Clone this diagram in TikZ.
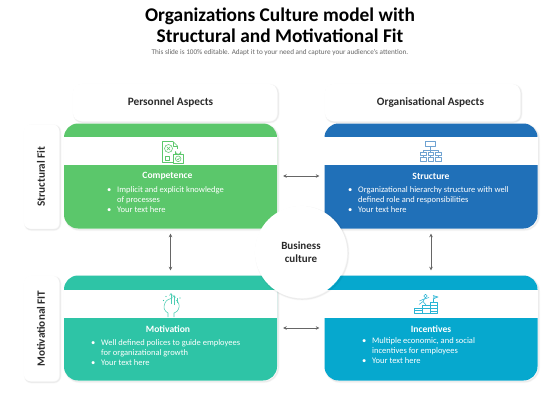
\documentclass[tikz,border=0pt]{standalone}
\usepackage{fontspec}
\setmainfont{Carlito}
\usetikzlibrary{arrows.meta}
\definecolor{cgreen}{HTML}{5BC76B}
\definecolor{cblue}{HTML}{2070B8}
\definecolor{cteal}{HTML}{2EC4A6}
\definecolor{ccyan}{HTML}{06A8CE}
\definecolor{ink}{HTML}{2B2B2B}
\tikzset{
  softshadow/.style={
    preaction={draw=black,draw opacity=.025,line width=2.6pt,transform canvas={shift={(1.2pt,-1.2pt)}}},
    preaction={draw=black,draw opacity=.05,line width=1.2pt,transform canvas={shift={(1.2pt,-1.2pt)}}}},
  cardbox/.style={rectangle,rounded corners=14pt,minimum width=213pt,minimum height=105pt,inner sep=0pt,softshadow},
  band/.style={rectangle,fill=white,minimum width=213.4pt,minimum height=28pt,inner sep=0pt},
  toplabel/.style={rectangle,fill=white,rounded corners=8pt,inner sep=0pt,softshadow,text=ink,font=\fontsize{11.3}{13}\selectfont\bfseries},
  sidelabel/.style={rectangle,fill=white,rounded corners=6pt,inner sep=0pt,softshadow,minimum width=35pt,minimum height=104pt},
  sidetext/.style={rotate=90,text=ink,inner sep=0pt,font=\fontsize{11.2}{13}\selectfont\bfseries},
  cardtitle/.style={text=white,inner sep=0pt,font=\fontsize{9.6}{11}\selectfont\bfseries},
  cardbody/.style={text=white,inner sep=0pt,align=left,anchor=north west,font=\fontsize{8.5}{10}\selectfont},
  link/.style={draw=black!60,line width=.6pt,{Stealth[length=3.5pt,width=3.5pt]}-{Stealth[length=3.5pt,width=3.5pt]}},
  icon/.style={line width=.55pt,line join=round,fill=none}
}
\newcommand{\bul}{\makebox[10pt][l]{•}}
\newcommand{\nob}{\hspace*{10pt}}
\begin{document}
\begin{tikzpicture}[x=1pt,y=-1pt]
\useasboundingbox[fill=white] (0,0) rectangle (560,420);
% title
\node[text=black,inner sep=0pt,align=center,font=\fontsize{19.4}{21}\selectfont\bfseries] (title) at (280,25.5) {Organizations Culture model with\\Structural and Motivational Fit};
\node[text=black!60,inner sep=0pt,font=\fontsize{7.2}{9}\selectfont] (sub) at (280,53) {This slide is 100\% editable. Adapt it to your need and capture your audience's attention.};
% header labels
\node[toplabel,minimum width=204pt,minimum height=37pt] (hp) at (175,102.5) {\hspace*{-9pt}Personnel Aspects};
\node[toplabel,minimum width=195pt,minimum height=37pt] (ho) at (422.5,102.5) {\hspace*{16pt}Organisational Aspects};
\node[sidelabel] (s1) at (41.5,176.5) {};
\node[sidelabel,minimum height=105pt] (s2) at (41.5,328.5) {};
\node[sidetext] (s1t) at (41,176.5) {Structural Fit};
\node[sidetext] (s2t) at (41,328.5) {Motivational FIT};
% cards
\node[cardbox,fill=cgreen] (c1) at (170.5,176) {};
\node[cardbox,fill=cblue] (c2) at (431,176) {};
\node[cardbox,fill=cteal] (c3) at (170.5,328) {};
\node[cardbox,fill=ccyan] (c4) at (431,328) {};
\node[band] (b1) at (170.5,151) {};
\node[band] (b2) at (431,151) {};
\node[band] (b3) at (170.5,304) {};
\node[band] (b4) at (431,304) {};
% connectors
\draw[link] ([xshift=6pt]c1.east) -- ([xshift=-5pt]c2.west);
\draw[link] ([xshift=6pt]c3.east) -- ([xshift=-5pt]c4.west);
\draw[link] ([yshift=-5pt]c1.south) -- ([yshift=5pt]c3.north);
\draw[link] ([yshift=-5pt]c2.south) -- ([yshift=5pt]c4.north);
% text
\node[cardtitle] (t1) at (167.5,176.5) {Competence};
\node[cardbody] (d1) at (107,186.5) {\bul Implicit and explicit knowledge\\\nob of processes\\\bul Your text here};
\node[cardtitle] (t2) at (431,176.5) {Structure};
\node[cardbody] (d2) at (348,186.5) {\bul Organizational hierarchy structure with well\\\nob defined role and responsibilities\\\bul Your text here};
\node[cardtitle] (t3) at (168,329) {Motivation};
\node[cardbody] (d3) at (91,339.5) {\bul Well defined polices to guide employees\\\nob for organizational growth\\\bul Your text here};
\node[cardtitle] (t4) at (431,329) {Incentives};
\node[cardbody] (d4) at (362,337.5) {\bul Multiple economic, and social\\\nob incentives for employees\\\bul Your text here};
% centre
\node[circle,fill=white,minimum size=92pt,inner sep=0pt,softshadow,align=center,text=ink,font=\fontsize{11}{13.4}\selectfont\bfseries] (hub) at (301,252) {Business\\culture};
% icon: competence
\begin{scope}[icon,draw=cgreen]
\draw (162.5,141.5) -- (173,141.5) -- (177.5,146) -- (177.5,162.5) -- (162.5,162.5) -- cycle;
\draw (173,141.5) -- (173,146) -- (177.5,146);
\draw (168.5,148.5) circle (4);
\draw (166.7,146.7) -- (170.3,150.3) (170.3,146.7) -- (166.7,150.3);
\draw (165,156) rectangle (169,160.5);
\fill[white] (172.5,149) rectangle (183.5,163.5);
\draw (173.5,154.5) rectangle (183,163);
\draw (175.5,154.5) -- (175.5,151.5) arc (180:0:2.7) -- (180.9,154.5);
\draw (178.2,158.8) circle (2.8);
\draw (176.9,158.8) -- (177.9,159.8) -- (179.7,157.8);
\end{scope}
% icon: structure
\begin{scope}[icon,draw=cblue!65]
\draw (425.5,141.5) rectangle (435.5,146.5);
\draw (430.5,146.5) -- (430.5,152);
\draw (423,152) -- (423,150) -- (438,150) -- (438,152);
\draw (420.3,152) rectangle (425.8,155.5) (427.8,152) rectangle (433.2,155.5) (435.2,152) rectangle (440.8,155.5);
\draw (423,155.5) -- (423,157.5) (430.5,155.5) -- (430.5,157.5) (438,155.5) -- (438,157.5);
\draw (420.3,157.5) rectangle (425.8,161) (427.8,157.5) rectangle (433.2,161) (435.2,157.5) rectangle (440.8,161);
\end{scope}
% icon: motivation
\begin{scope}[icon,draw=cteal!85]
\draw (168,317) -- (168,313) .. controls (164,311) and (163,307) .. (165,303) .. controls (166,300) and (170,298.5) .. (172,298.5);
\draw (176,300) .. controls (179,302) and (180,306) .. (178.5,309) .. controls (178,311) and (176.5,312) .. (174,313) -- (174,317);
\draw (171,304) -- (171,294) (174,305) -- (174,296) (177,303) -- (177,298);
\draw (169.5,295.5) -- (171,293.5) -- (172.5,295.5) (172.5,297.5) -- (174,295.5) -- (175.5,297.5);
\fill[cteal] (163.5,300.5) circle (.7) (166,296.5) circle (.7) (180,298) circle (.7);
\end{scope}
% icon: incentives
\begin{scope}[icon,draw=ccyan!85]
\draw (414.5,313.5) rectangle (422.5,308) (422.5,313.5) rectangle (430,305.5) (430,313.5) rectangle (437,302);
\draw (414.5,310.5) -- (422.5,310.5) (422.5,308.5) -- (430,308.5) (430,305) -- (437,305) (430,308) -- (437,308) (430,311) -- (437,311);
\draw (433,302) -- (433,295.5);
\draw[fill=ccyan!40] (433,295.5) -- (438,297) -- (433,299);
\draw (425.5,296) circle (1.7);
\draw (425,298) -- (423,301.5) -- (419,304.5) (423,301.5) -- (426,305) (424.5,299) -- (429,297.5) (424,299) -- (419.5,301);
\end{scope}
\end{tikzpicture}
\end{document}
